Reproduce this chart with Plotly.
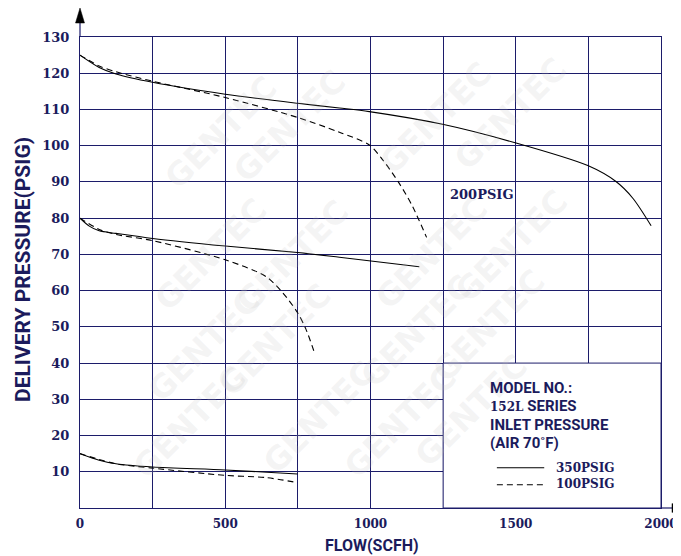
import plotly.graph_objects as go

# ---------------- data ----------------
# 350 PSIG inlet (solid) / 100 PSIG inlet (dashed); three set-pressure groups
g1_solid_x = [0, 66, 124, 250, 500, 749, 893, 996, 1248, 1498, 1748, 1845, 1903, 1966]
g1_solid_y = [125, 121.6, 119.8, 117.5, 114.2, 111.7, 110.4, 109.4, 105.9, 100.8, 94.5, 90.1, 85.5, 77.9]
g1_dash_x = [0, 66, 124, 250, 500, 749, 893, 996, 1042, 1099, 1145, 1193]
g1_dash_y = [125, 122.0, 120.4, 117.8, 113.3, 107.8, 103.7, 100.2, 96.1, 89.6, 83.2, 74.7]

g2_solid_x = [0, 32, 66, 124, 250, 500, 749, 893, 1168]
g2_solid_y = [80, 77.8, 76.5, 75.8, 74.4, 72.3, 70.5, 69.2, 66.6]
g2_dash_x = [0, 66, 124, 250, 500, 640, 698, 749, 778, 807]
g2_dash_y = [80, 76.9, 75.5, 73.8, 68.5, 63.9, 59.4, 53.9, 49.3, 42.9]

g3_solid_x = [0, 66, 124, 250, 500, 749]
g3_solid_y = [15, 13.2, 12.2, 11.3, 10.5, 9.4]
g3_dash_x = [0, 66, 124, 250, 500, 640, 749]
g3_dash_y = [15, 13.4, 12.2, 11.0, 9.0, 8.4, 7.0]

x_tickvals = [0, 250, 500, 750, 1000, 1250, 1500, 1750, 2000]
x_ticktext = ["0", "", "500", "", "1000", "", "1500", "", "2000"]
y_tickvals = [10, 20, 30, 40, 50, 60, 70, 80, 90, 100, 110, 120, 130]
y_ticktext = [str(v) for v in y_tickvals]

legend_lines = ["MODEL NO.:", "152L SERIES", "INLET PRESSURE", "(AIR 70˚F)"]
series_names = ["350PSIG", "100PSIG"]
curve_label = "200PSIG"

# ---------------- styling ----------------
NAVY = "#1c1c6a"
TXT = "#1b1b5c"
OFF = 8  # page body margin
W, H = 681 - OFF, 556 - OFF
ML, MR, MT, MB = 80 - OFF, 20, 37 - OFF, 48
PW, PH = W - ML - MR, H - MT - MB


def px2paper(px, py):
    # page pixel -> paper coordinates
    fx, fy = px - OFF, py - OFF
    return (fx - ML) / PW, (H - MB - fy) / PH


fig = go.Figure()
dash_style = "6px,4px"
for xs, ys, dsh in [
    (g1_solid_x, g1_solid_y, "solid"), (g1_dash_x, g1_dash_y, dash_style),
    (g2_solid_x, g2_solid_y, "solid"), (g2_dash_x, g2_dash_y, dash_style),
    (g3_solid_x, g3_solid_y, "solid"), (g3_dash_x, g3_dash_y, dash_style),
]:
    fig.add_trace(go.Scatter(x=xs, y=ys, mode="lines",
                             line=dict(color="black", width=1.1, dash=dsh,
                                       shape="spline", smoothing=0.8),
                             showlegend=False, hoverinfo="skip"))

shapes = []
# legend box covering the lower-right grid
shapes.append(dict(type="rect", xref="x", yref="y", x0=1250, x1=2000, y0=0, y1=40,
                   fillcolor="white", line=dict(color=NAVY, width=1), layer="above"))
# legend sample lines
shapes.append(dict(type="line", xref="x", yref="y", x0=1435, x1=1598, y0=11.1, y1=11.1,
                   line=dict(color="black", width=1.1), layer="above"))
shapes.append(dict(type="line", xref="x", yref="y", x0=1435, x1=1598, y0=6.4, y1=6.4,
                   line=dict(color="black", width=1.1, dash=dash_style), layer="above"))
# axis arrows
shapes.append(dict(type="line", xref="paper", yref="paper", xsizemode="pixel", ysizemode="pixel",
                   xanchor=0, yanchor=1, x0=0, x1=0, y0=0, y1=16,
                   line=dict(color=NAVY, width=1.2), layer="above"))
shapes.append(dict(type="path", xref="paper", yref="paper", xsizemode="pixel", ysizemode="pixel",
                   xanchor=0, yanchor=1, path="M -4.5,14 L 4.5,14 L 0,29 Z",
                   fillcolor="black", line=dict(color="black", width=0.5), layer="above"))
shapes.append(dict(type="line", xref="paper", yref="paper", xsizemode="pixel", ysizemode="pixel",
                   xanchor=1, yanchor=0, x0=0, x1=12, y0=0, y1=0,
                   line=dict(color=NAVY, width=1.2), layer="above"))
shapes.append(dict(type="path", xref="paper", yref="paper", xsizemode="pixel", ysizemode="pixel",
                   xanchor=1, yanchor=0, path="M 11,-4.5 L 11,4.5 L 22,0 Z",
                   fillcolor="black", line=dict(color="black", width=0.5), layer="above"))

annotations = []
# faint watermark (page-pixel centres)
wm_pos = [(155, 66), (290, 60), (436, 52), (577, 48),
          (145, 188), (293, 190), (432, 187), (578, 180),
          (138, 345), (275, 340), (417, 331), (555, 326),
          (123, 488), (253, 483), (400, 488), (537, 477)]
for (px, py) in wm_pos:
    xp, yp = px2paper(px, py)
    annotations.append(dict(text="GENTEC", xref="paper", yref="paper", x=xp, y=yp,
                            showarrow=False, textangle=-45,
                            font=dict(family="DejaVu Sans", size=32, weight="bold",
                                      color="rgba(190,190,190,0.16)")))

# axis titles
xp, yp = px2paper(22.5, 269.5)
annotations.append(dict(text="DELIVERY PRESSURE(PSIG)", xref="paper", yref="paper", x=xp, y=yp,
                        showarrow=False, textangle=-90, xanchor="center", yanchor="middle",
                        font=dict(family="Roboto", size=21, weight="bold", color=TXT)))
xp, yp = px2paper(372.5, 545)
annotations.append(dict(text="FLOW(SCFH)", xref="paper", yref="paper", x=xp, y=yp,
                        showarrow=False, xanchor="center", yanchor="middle",
                        font=dict(family="Roboto", size=16, weight="bold", color=TXT)))

# curve label
annotations.append(dict(text=curve_label, xref="x", yref="y", x=1382, y=86.4, showarrow=False,
                        xanchor="center", yanchor="middle",
                        font=dict(family="DejaVu Serif", size=13, weight="bold", color=TXT)))

# legend text
leg_y = [33.2, 28.2, 22.9, 17.9]
for txt, yy in zip(legend_lines, leg_y):
    if txt.startswith("152L"):
        txt = "<span style='font-family:DejaVu Serif;font-size:12px'>152L</span> SERIES"
    annotations.append(dict(text=txt, xref="x", yref="y", x=1404, y=yy, showarrow=False,
                            xanchor="left", yanchor="middle",
                            font=dict(family="Roboto", size=15, weight="bold", color=TXT)))
for txt, yy in zip(series_names, [11.1, 6.6]):
    annotations.append(dict(text=txt, xref="x", yref="y", x=1631, y=yy, showarrow=False,
                            xanchor="left", yanchor="middle",
                            font=dict(family="DejaVu Serif", size=12, weight="bold", color=TXT)))

fig.update_layout(
    template="none",
    width=W, height=H,
    margin=dict(l=ML, r=MR, t=MT, b=MB, pad=0, autoexpand=False),
    paper_bgcolor="white", plot_bgcolor="white",
    shapes=shapes, annotations=annotations,
    showlegend=False,
    xaxis=dict(range=[0, 2000], tickmode="array", tickvals=x_tickvals, ticktext=x_ticktext,
               showgrid=True, gridcolor=NAVY, gridwidth=1, zeroline=False, automargin=False,
               showline=True, linecolor=NAVY, linewidth=1.2, mirror=True,
               ticks="", ticklabelstandoff=4,
               tickfont=dict(family="DejaVu Serif", size=12, weight="bold", color=TXT)),
    yaxis=dict(range=[0, 130], tickmode="array", tickvals=y_tickvals, ticktext=y_ticktext,
               showgrid=True, gridcolor=NAVY, gridwidth=1, zeroline=False, automargin=False,
               showline=True, linecolor=NAVY, linewidth=1.2, mirror=True,
               ticks="", ticklabelstandoff=7,
               tickfont=dict(family="DejaVu Serif", size=13, weight="bold", color=TXT)),
)

fig.write_html("out.html")
